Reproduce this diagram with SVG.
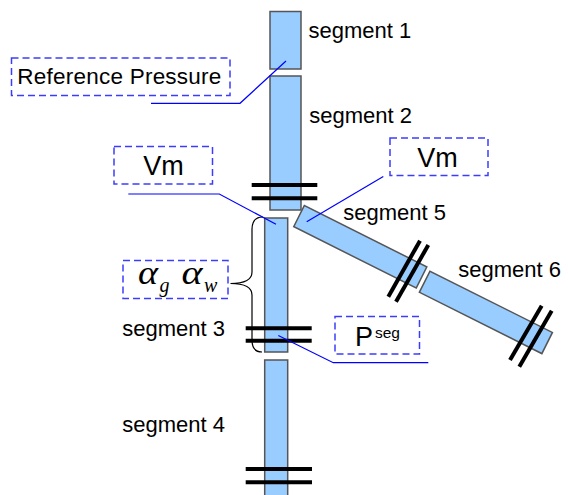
<svg xmlns="http://www.w3.org/2000/svg" width="568" height="495" viewBox="0 0 568 495">
<style>
.seg{fill:#99CCFF;stroke:#555;stroke-width:1.5}
.bar{stroke:#000;stroke-width:4;fill:none}
.box{fill:none;stroke:#3c3cff;stroke-width:1.5;stroke-dasharray:7 4}
.lead{fill:none;stroke:#0000ff;stroke-width:1.2}
.lbl{font-family:"Liberation Sans",Arial,sans-serif;font-size:22px;fill:#000}
.big{font-family:"Liberation Sans",Arial,sans-serif;font-size:27px;fill:#000}
.math{font-family:"Liberation Serif","Times New Roman",serif;font-style:italic;fill:#000}
</style>
<rect width="568" height="495" fill="#fff"/>
<g id="segment1"><rect class="seg" x="270" y="11.5" width="31" height="57.5"/><text class="lbl" x="308.5" y="38.3">segment 1</text></g>
<g id="segment2"><rect class="seg" x="270" y="76" width="31" height="134"/><text class="lbl" x="309.3" y="123.3">segment 2</text>
<line class="bar" x1="251.7" y1="185" x2="317.3" y2="185"/><line class="bar" x1="251.7" y1="198.3" x2="317.3" y2="198.3"/></g>
<g id="segment3"><rect class="seg" x="264.7" y="218" width="23" height="134"/><text class="lbl" x="122.3" y="335.7">segment 3</text>
<line class="bar" x1="245.7" y1="328.3" x2="311.7" y2="328.3"/><line class="bar" x1="245.7" y1="340.7" x2="311.7" y2="340.7"/></g>
<g id="segment4"><rect class="seg" x="264.7" y="360" width="23" height="136"/><text class="lbl" x="122.3" y="431.7">segment 4</text>
<line class="bar" x1="245.7" y1="469" x2="312" y2="469"/><line class="bar" x1="245.7" y1="482.3" x2="312" y2="482.3"/></g>
<g id="segment5"><rect class="seg" x="-68.5" y="-11.8" width="137" height="23.6" transform="translate(360.3 246.8) rotate(26.6)"/><text class="lbl" x="343.3" y="220">segment 5</text>
<line class="bar" x1="420" y1="240.7" x2="388.3" y2="296.7"/><line class="bar" x1="428.3" y1="245" x2="396" y2="301.7"/></g>
<g id="segment6"><rect class="seg" x="-68.5" y="-11.8" width="137" height="23.6" transform="translate(485.9 312.4) rotate(26.6)"/><text class="lbl" x="458.3" y="277.3">segment 6</text>
<line class="bar" x1="541.7" y1="305.7" x2="510" y2="360"/><line class="bar" x1="551.7" y1="310.7" x2="519.3" y2="366.7"/></g>
<g id="refPressure"><rect class="box" x="11.5" y="58" width="218.5" height="37.5"/><text class="lbl" x="17.3" y="84.3" textLength="204" style="font-size:22.5px">Reference Pressure</text></g>
<g id="vmLeft"><rect class="box" x="114" y="146.5" width="98.5" height="37.5"/><text class="big" x="143.3" y="175">Vm</text></g>
<g id="vmRight"><rect class="box" x="390" y="138" width="98" height="37.5"/><text class="big" x="417.3" y="166.7">Vm</text></g>
<g id="alpha"><rect class="box" x="123" y="260.5" width="105" height="38"/>
<text class="math" x="138" y="284" style="font-size:34px" textLength="20" lengthAdjust="spacingAndGlyphs">α</text><text class="math" x="159.5" y="292" style="font-size:20px">g</text>
<text class="math" x="181.5" y="284" style="font-size:34px" textLength="21" lengthAdjust="spacingAndGlyphs">α</text><text class="math" x="204" y="291.5" style="font-size:20px">w</text>
<path d="M263,217 Q252,217 252,229 L252,272 Q252,283.5 230.5,283.5 Q252,283.5 252,295 L252,340 Q252,352 262,352" fill="none" stroke="#000" stroke-width="1.2"/></g>
<g id="pseg"><rect class="box" x="335" y="316.5" width="84.5" height="37.5"/><text class="big" x="355" y="345.7">P</text><text class="lbl" x="375" y="338.3" style="font-size:15.5px">seg</text></g>
<g id="connectors">
<polyline class="lead" points="151,103.3 240,103.3 286,61"/>
<polyline class="lead" points="128.3,194 219.3,194 276,224.3"/>
<polyline class="lead" points="383.3,176.5 306.7,221.7"/>
<polyline class="lead" points="428.3,362.7 333.3,362.7 278.3,335.5"/>
</g>
</svg>
